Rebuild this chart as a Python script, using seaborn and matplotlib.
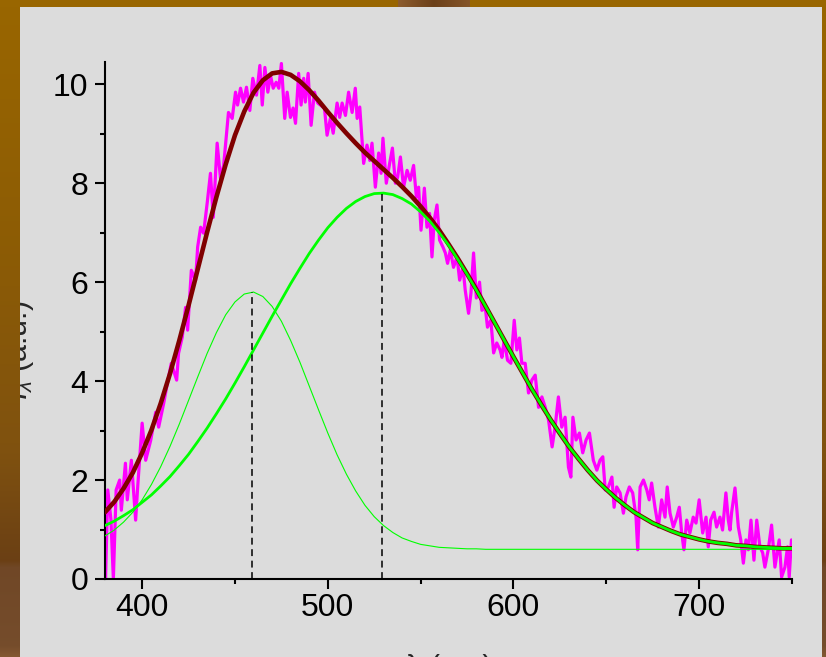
import numpy as np
import pandas as pd
import matplotlib
matplotlib.use("Agg")
import matplotlib.pyplot as plt
from matplotlib.ticker import MultipleLocator
import seaborn as sns

# ---------------- data ----------------
# measured spectrum (noisy magenta trace)
meas_x = [380.3, 381.5, 383.2, 384.5, 386.0, 387.9, 388.8, 391.0, 392.0, 394.2,
          396.5, 397.6, 400.0, 401.9, 404.6, 407.3, 408.9, 411.6, 413.6, 415.7,
          418.6, 419.6, 421.6, 423.4, 424.5, 426.5, 428.8, 429.9, 431.5, 433.1,
          435.1, 436.8, 438.3, 440.4, 442.2, 443.9, 446.5, 448.5, 450.3, 451.4,
          453.0, 454.6, 456.2, 458.0, 459.6, 461.6, 463.4, 464.7, 466.1, 467.7,
          469.1, 470.6, 472.2, 473.6, 475.0, 476.8, 478.1, 479.9, 481.3, 482.6,
          484.3, 485.6, 487.0, 487.9, 489.4, 491.0, 492.8, 494.6, 496.0, 498.2,
          499.6, 501.4, 502.9, 505.0, 506.4, 507.7, 509.5, 511.2, 513.1, 514.8,
          515.8, 517.2, 519.3, 521.1, 522.6, 523.8, 525.6, 527.4, 528.7, 529.7,
          531.5, 533.3, 534.8, 536.4, 537.6, 539.1, 540.8, 542.7, 544.4, 546.2,
          547.7, 548.9, 550.2, 552.0, 553.4, 554.8, 556.1, 557.3, 558.8, 560.2,
          562.0, 563.3, 564.5, 566.0, 567.7, 569.6, 571.0, 572.8, 574.0, 575.8,
          577.1, 578.5, 580.0, 581.7, 583.0, 584.8, 586.0, 587.8, 589.3, 591.0,
          592.8, 593.8, 595.0, 596.8, 598.6, 600.4, 601.8, 603.2, 604.5, 606.3,
          608.1, 609.9, 611.7, 613.5, 615.3, 617.1, 618.9, 620.8, 622.4, 624.2,
          626.0, 627.8, 629.6, 630.9, 632.0, 633.7, 635.5, 637.3, 639.1, 640.9,
          643.0, 644.9, 646.6, 648.1, 649.4, 651.1, 653.0, 654.2, 655.6, 657.4,
          659.2, 660.6, 662.4, 664.2, 666.0, 666.9, 668.2, 670.0, 671.8, 673.1,
          674.4, 676.2, 678.0, 679.8, 681.6, 682.8, 684.3, 686.1, 687.9, 689.3,
          690.6, 691.8, 693.3, 695.0, 696.8, 698.3, 700.0, 701.9, 703.7, 704.9,
          706.2, 708.0, 709.4, 711.2, 712.6, 714.4, 715.7, 716.6, 717.5, 719.3,
          721.1, 722.4, 723.8, 725.2, 726.5, 727.9, 729.5, 731.0, 732.7, 734.2,
          735.4, 737.2, 739.0, 740.8, 742.0, 743.1, 744.4, 746.2, 747.6, 748.5,
          749.7]
meas_y = [0.00, 1.80, 1.20, 0.00, 1.80, 2.00, 1.39, 2.34, 1.60, 2.40,
          1.19, 1.86, 3.15, 2.40, 2.80, 3.37, 3.07, 3.55, 3.96, 4.36,
          4.02, 4.56, 4.89, 5.49, 5.03, 6.24, 6.04, 6.71, 7.11, 6.99,
          7.62, 8.20, 7.31, 8.81, 8.10, 8.36, 9.43, 9.31, 9.84, 9.58,
          9.92, 9.64, 9.94, 9.47, 10.12, 9.78, 10.38, 9.58, 10.34, 9.84,
          10.18, 9.92, 10.04, 9.92, 10.42, 9.31, 9.84, 9.33, 9.52, 9.21,
          10.22, 9.58, 10.12, 9.64, 10.22, 9.17, 9.84, 9.62, 9.58, 9.52,
          8.97, 9.31, 9.01, 9.62, 9.33, 9.62, 9.37, 9.84, 9.43, 9.92,
          9.31, 9.54, 8.40, 8.77, 8.46, 8.81, 7.92, 8.61, 8.20, 8.91,
          8.00, 8.40, 8.71, 8.00, 8.12, 8.53, 7.92, 8.26, 8.06, 8.36,
          7.72, 7.92, 7.05, 7.90, 7.11, 7.39, 6.51, 7.25, 7.56, 6.85,
          6.71, 6.59, 6.38, 6.65, 6.30, 6.51, 6.04, 6.30, 5.84, 5.37,
          5.78, 6.59, 5.68, 6.00, 5.43, 5.49, 5.09, 5.23, 4.57, 4.77,
          4.63, 4.48, 4.83, 4.42, 4.36, 5.23, 4.63, 4.87, 4.36, 4.36,
          3.76, 4.02, 4.12, 3.47, 3.68, 3.47, 3.21, 2.67, 3.07, 3.68,
          3.07, 3.27, 2.26, 2.06, 3.27, 2.81, 2.95, 2.55, 2.81, 2.95,
          2.40, 2.20, 2.40, 2.47, 1.80, 1.86, 2.06, 1.45, 1.86, 1.74,
          1.33, 1.66, 1.86, 1.74, 1.25, 0.59, 1.86, 2.00, 1.80, 1.60,
          1.94, 1.45, 1.05, 1.60, 1.25, 1.86, 1.33, 1.05, 1.25, 1.45,
          0.93, 0.59, 1.19, 0.93, 1.25, 1.13, 1.60, 0.93, 1.25, 0.65,
          1.19, 1.35, 1.05, 1.25, 0.99, 1.74, 1.19, 0.99, 1.35, 1.84,
          1.05, 0.79, 0.32, 0.79, 0.59, 1.19, 0.38, 1.19, 0.65, 0.53,
          0.24, 0.59, 1.09, 0.24, 0.53, 0.79, 0.04, 0.24, 0.65, 0.04,
          0.79]

# fitted curves sampled every 5 nm
fit_x = list(range(380, 755, 5))
peak1_y = [0.87, 0.99, 1.15, 1.35, 1.60, 1.91, 2.27, 2.68, 3.13, 3.61,
           4.09, 4.56, 4.98, 5.34, 5.60, 5.76, 5.80, 5.71, 5.51, 5.21,
           4.82, 4.38, 3.90, 3.42, 2.95, 2.51, 2.12, 1.78, 1.49, 1.26,
           1.08, 0.94, 0.83, 0.76, 0.70, 0.67, 0.64, 0.63, 0.62, 0.61,
           0.61, 0.60, 0.60, 0.60, 0.60, 0.60, 0.60, 0.60, 0.60, 0.60,
           0.60, 0.60, 0.60, 0.60, 0.60, 0.60, 0.60, 0.60, 0.60, 0.60,
           0.60, 0.60, 0.60, 0.60, 0.60, 0.60, 0.60, 0.60, 0.60, 0.60,
           0.60, 0.60, 0.60, 0.60, 0.60]
peak2_y = [1.08, 1.17, 1.28, 1.40, 1.55, 1.70, 1.88, 2.07, 2.29, 2.52,
           2.78, 3.05, 3.34, 3.64, 3.96, 4.29, 4.63, 4.97, 5.31, 5.64,
           5.97, 6.28, 6.58, 6.85, 7.10, 7.31, 7.49, 7.63, 7.73, 7.79,
           7.80, 7.77, 7.69, 7.58, 7.42, 7.23, 7.00, 6.75, 6.46, 6.16,
           5.84, 5.51, 5.17, 4.83, 4.49, 4.16, 3.83, 3.52, 3.22, 2.94,
           2.67, 2.43, 2.20, 1.99, 1.81, 1.64, 1.49, 1.35, 1.24, 1.13,
           1.05, 0.97, 0.90, 0.85, 0.80, 0.76, 0.73, 0.71, 0.68, 0.67,
           0.65, 0.64, 0.63, 0.62, 0.62]
total_y = [1.35, 1.56, 1.83, 2.15, 2.55, 3.01, 3.55, 4.15, 4.82, 5.53,
           6.27, 7.01, 7.72, 8.38, 8.97, 9.45, 9.83, 10.08, 10.22, 10.25,
           10.19, 10.06, 9.88, 9.67, 9.44, 9.22, 9.01, 8.81, 8.62, 8.45,
           8.28, 8.11, 7.93, 7.74, 7.53, 7.30, 7.05, 6.77, 6.48, 6.17,
           5.85, 5.51, 5.17, 4.83, 4.49, 4.16, 3.83, 3.52, 3.22, 2.94,
           2.67, 2.43, 2.20, 1.99, 1.81, 1.64, 1.49, 1.35, 1.24, 1.13,
           1.05, 0.97, 0.90, 0.85, 0.80, 0.76, 0.73, 0.71, 0.68, 0.67,
           0.65, 0.64, 0.63, 0.62, 0.62]

# peak centres and heights (dashed markers)
peak_centers = [459, 529]
peak_heights = [5.8, 7.8]

x_ticks = [400, 500, 600, 700]
y_ticks = [0, 2, 4, 6, 8, 10]

# ---------------- style ----------------
sns.set_style("ticks")
plt.rcParams["font.family"] = ["Liberation Sans", "DejaVu Sans"]
plt.rcParams["mathtext.fontset"] = "custom"
plt.rcParams["mathtext.rm"] = "Liberation Sans"
plt.rcParams["mathtext.it"] = "Liberation Sans:italic"

W, H = 826, 657
GRAY = "#DCDCDC"
fig = plt.figure(figsize=(W / 100, H / 100), dpi=100, facecolor=GRAY)
ax = fig.add_axes([105 / W, 78 / H, 687 / W, 517 / H])
ax.set_facecolor(GRAY)

meas = pd.DataFrame({"x": meas_x, "y": meas_y})
fits = pd.DataFrame({"x": fit_x, "p1": peak1_y, "p2": peak2_y, "tot": total_y})

sns.lineplot(data=meas, x="x", y="y", ax=ax, color="#FF00FF", lw=2.3,
             sort=False, estimator=None, zorder=2)
sns.lineplot(data=fits, x="x", y="tot", ax=ax, color="#800000", lw=3.3,
             sort=False, estimator=None, zorder=3)
sns.lineplot(data=fits, x="x", y="p1", ax=ax, color="#00FF00", lw=0.8,
             sort=False, estimator=None, zorder=4)
sns.lineplot(data=fits, x="x", y="p2", ax=ax, color="#00FF00", lw=2.0,
             sort=False, estimator=None, zorder=5)
ax.vlines(peak_centers, 0, peak_heights, colors="black", lw=1.1,
          linestyles=(0, (4.5, 3)), zorder=6)

ax.set_xlim(380, 750)
ax.set_ylim(0, 10.45)
ax.set_xticks(x_ticks)
ax.set_yticks(y_ticks)
ax.xaxis.set_minor_locator(MultipleLocator(50))
ax.yaxis.set_minor_locator(MultipleLocator(1))
ax.set_xlabel("")
ax.set_ylabel("")

for s in ["top", "right"]:
    ax.spines[s].set_visible(False)
for s in ["left", "bottom"]:
    ax.spines[s].set_linewidth(1.5)
    ax.spines[s].set_color("black")

ax.tick_params(which="major", direction="out", length=7.5, width=1.5,
               colors="black", labelsize=23)
ax.tick_params(which="minor", direction="out", length=3.6, width=1.5,
               colors="black")
ax.tick_params(axis="x", which="major", pad=2.5)
ax.tick_params(axis="y", which="major", pad=4.5)

# axis titles (partly hidden behind the frame, as in the original)
fig.text(449 / W, 3 / H, "λ (nm)", ha="center", va="top", fontsize=22)
fig.text(19 / W, 1 - 350 / H, r"$I_{\lambda}$ (a.u.)", rotation=90,
         ha="center", va="center", fontsize=22)

# ---------------- wooden frame overlay ----------------
ov = np.zeros((H, W, 4))
stops = [0, 250, 450, 560, 567, 645, 657]
cols = np.array([[0.60, 0.40, 0.00],
                 [0.55, 0.36, 0.02],
                 [0.50, 0.32, 0.06],
                 [0.42, 0.25, 0.08],
                 [0.44, 0.28, 0.15],
                 [0.46, 0.30, 0.17],
                 [0.52, 0.35, 0.20]])
rows = np.arange(H)
grad = np.stack([np.interp(rows, stops, cols[:, c]) for c in range(3)], axis=1)
ov[:, :20, :3] = grad[:, None, :]
ov[:, :20, 3] = 1
ov[:, 822:, :3] = grad[:, None, :]
ov[:, 822:, 3] = 1
ov[:7, :, :3] = [0.60, 0.40, 0.00]
ov[:7, :, 3] = 1
xs = np.linspace(0, 1, 470 - 398)
piece = np.stack([np.interp(xs, [0, 0.5, 1], [0.55, 0.42, 0.52]),
                  np.interp(xs, [0, 0.5, 1], [0.36, 0.25, 0.33]),
                  np.interp(xs, [0, 0.5, 1], [0.18, 0.10, 0.16])], axis=1)
ov[:7, 398:470, :3] = piece[None, :, :]
fig.figimage(ov, xo=0, yo=0, origin="upper", zorder=10)

fig.savefig("out.png", dpi=100, facecolor=GRAY)
